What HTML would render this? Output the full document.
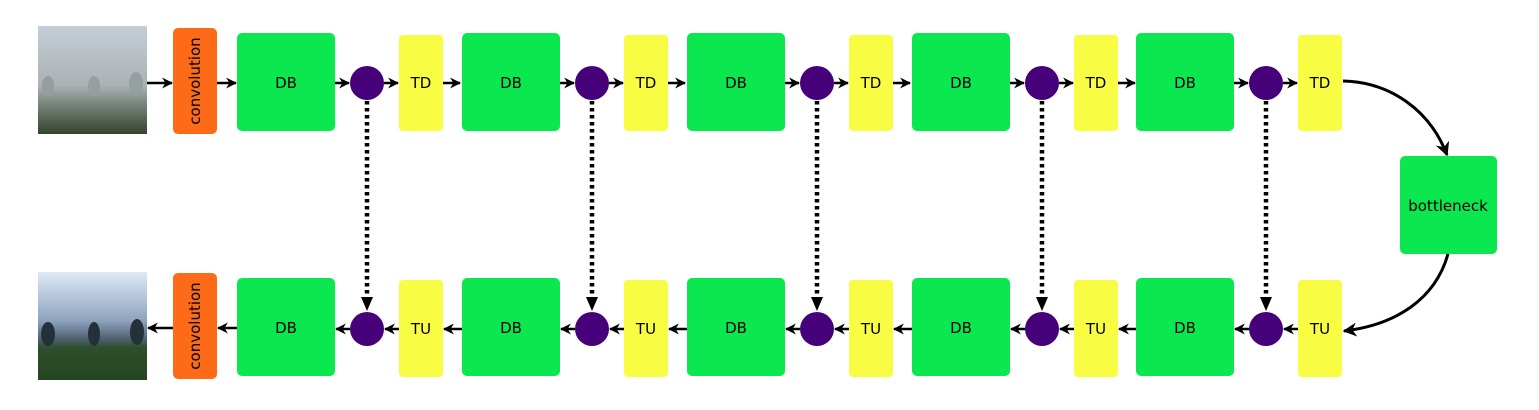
<!DOCTYPE html>
<html><head><meta charset="utf-8"><style>
html,body{margin:0;padding:0;background:#fff;width:1539px;height:410px;overflow:hidden}
text{font-family:"DejaVu Sans","Liberation Sans",sans-serif;font-size:15px;font-weight:normal;fill:#000;text-anchor:middle;dominant-baseline:central}
</style></head><body>
<svg width="1539" height="410" viewBox="0 0 1539 410" xmlns="http://www.w3.org/2000/svg">
<defs>
<marker id="ah" viewBox="0 0 10 10" refX="9" refY="5" markerWidth="11" markerHeight="11" markerUnits="userSpaceOnUse" orient="auto"><path d="M0,0 L10,5 L0,10 L3,5 z" fill="#000"/></marker>
<marker id="ah2" viewBox="0 0 10 10" refX="9" refY="5" markerWidth="14" markerHeight="14" markerUnits="userSpaceOnUse" orient="auto"><path d="M0,0 L10,5 L0,10 L3,5 z" fill="#000"/></marker>
<linearGradient id="fog" x1="0" y1="0" x2="0" y2="1"><stop offset="0" stop-color="#c5ced8"/><stop offset="0.55" stop-color="#aab2b4"/><stop offset="0.7" stop-color="#7f8a82"/><stop offset="1" stop-color="#34442f"/></linearGradient>
<linearGradient id="clear" x1="0" y1="0" x2="0" y2="1"><stop offset="0" stop-color="#dfe9f5"/><stop offset="0.45" stop-color="#8ea3bf"/><stop offset="0.62" stop-color="#4f6170"/><stop offset="0.7" stop-color="#2f4e2c"/><stop offset="1" stop-color="#23461f"/></linearGradient>
</defs>
<rect x="38" y="26" width="109" height="108" fill="url(#fog)"/>
<g fill="#959fa0"><ellipse cx="48" cy="86" rx="6" ry="10"/><ellipse cx="94" cy="86" rx="6" ry="10"/><ellipse cx="136" cy="84" rx="7" ry="12"/></g>
<rect x="38" y="272" width="109" height="108" fill="url(#clear)"/>
<g fill="#253138"><ellipse cx="48" cy="334" rx="7" ry="12"/><ellipse cx="94" cy="334" rx="6" ry="12"/><ellipse cx="137" cy="332" rx="7" ry="13"/></g>
<rect x="173" y="28" width="44" height="106" rx="5" fill="#fd6b19"/>
<text transform="translate(195,81) rotate(-90)">convolution</text>
<rect x="173" y="273" width="44" height="106" rx="5" fill="#fd6b19"/>
<text transform="translate(195,326) rotate(-90)">convolution</text>
<g stroke="#000" stroke-width="2.5" fill="none" marker-end="url(#ah)">
<line x1="147" y1="83" x2="172" y2="83"/>
<line x1="217" y1="83" x2="236" y2="83"/>
<line x1="173" y1="328" x2="148" y2="328"/>
<line x1="237" y1="328" x2="218" y2="328"/>
</g>
<g id="s0">
<rect x="237" y="33" width="98" height="98" rx="5" fill="#0be84f"/><text x="286" y="83">DB</text>
<circle cx="367" cy="83" r="17" fill="#45007a"/>
<rect x="399" y="35" width="44" height="96" rx="4" fill="#f8fc42"/><text x="421" y="83">TD</text>
<rect x="237" y="278" width="98" height="98" rx="5" fill="#0be84f"/><text x="286" y="328">DB</text>
<circle cx="367" cy="329" r="17" fill="#45007a"/>
<rect x="399" y="280" width="44" height="97" rx="4" fill="#f8fc42"/><text x="421" y="329">TU</text>
<g stroke="#000" stroke-width="2.5" fill="none" marker-end="url(#ah)">
<line x1="335" y1="83" x2="349" y2="83"/>
<line x1="384" y1="83" x2="398" y2="83"/>
<line x1="399" y1="329" x2="385" y2="329"/>
<line x1="350" y1="329" x2="336" y2="329"/>
</g>
<line x1="367" y1="101" x2="367" y2="299" stroke="#000" stroke-width="4.5" stroke-dasharray="3.5,3.5"/>
<path d="M361,297 L373,297 L367,311 z" fill="#000"/>
</g>
<use href="#s0" x="225"/><use href="#s0" x="450"/><use href="#s0" x="675"/><use href="#s0" x="899"/>
<g stroke="#000" stroke-width="2.5" fill="none" marker-end="url(#ah)">
<line x1="443" y1="83" x2="460" y2="83"/><line x1="668" y1="83" x2="685" y2="83"/><line x1="893" y1="83" x2="910" y2="83"/><line x1="1118" y1="83" x2="1135" y2="83"/>
<line x1="462" y1="329" x2="444" y2="329"/><line x1="687" y1="329" x2="669" y2="329"/><line x1="912" y1="329" x2="894" y2="329"/><line x1="1136" y1="329" x2="1119" y2="329"/>
</g>
<rect x="1400" y="156" width="97" height="98" rx="5" fill="#0be84f"/><text x="1448" y="206">bottleneck</text>
<g stroke="#000" stroke-width="3" fill="none" marker-end="url(#ah2)">
<path d="M1343,81 C1390,82 1430,110 1447,155"/>
<path d="M1448,254 C1435,300 1395,325 1344,331"/>
</g>
</svg>
</body></html>
